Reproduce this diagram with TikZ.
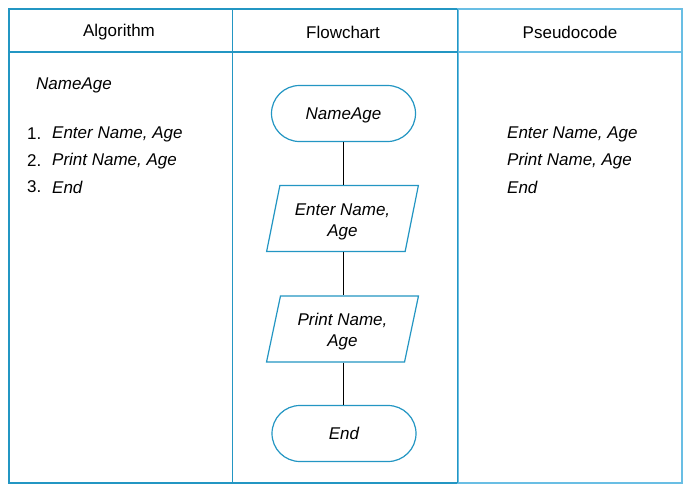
\documentclass[tikz,border=0pt]{standalone}
\usepackage{fontspec}
\setmainfont{Liberation Sans}
\usetikzlibrary{shapes.geometric}
\definecolor{tblue}{RGB}{35,150,195}
\definecolor{lblue}{RGB}{105,190,228}
\newcommand{\iotext}[2]{\raisebox{-3pt}[\height][\depth]{\begin{tabular}{@{}c@{}}#1\\#2\end{tabular}}}
\begin{document}
\begin{tikzpicture}[x=1pt,y=-1pt,
  every node/.style={font=\fontsize{17}{21}\selectfont, inner sep=0pt},
  hdr/.style={anchor=center},
  itm/.style={anchor=west, font=\fontsize{17}{21}\selectfont\itshape},
  term/.style={draw=tblue, line width=1.2pt, rectangle, rounded corners=28pt,
     minimum width=144pt, minimum height=56pt, text height=16.5pt, text depth=3.6pt,
     font=\fontsize{17}{21}\selectfont\itshape},
  io/.style={draw=tblue, line width=1.2pt, trapezium, trapezium left angle=76.5,
     trapezium right angle=103.5, trapezium stretches=true,
     minimum width=152pt, minimum height=66pt,
     font=\fontsize{17}{21}\selectfont\itshape},
  conn/.style={draw=black, line width=0.9pt}]
\useasboundingbox (0,0) rectangle (689,490);
\fill[white] (0,0) rectangle (689,490);
% table
\draw[tblue, line width=1.3pt] (458,9) -- (9,9) -- (9,483) -- (458,483);
\draw[tblue, line width=1.3pt] (9,52) -- (458,52);
\draw[tblue, line width=1.3pt] (232.5,9) -- (232.5,483);
\draw[lblue, line width=2pt] (457.5,8.5) rectangle (682,483);
\draw[lblue, line width=2pt] (457.5,52) -- (682,52);
\draw[tblue, line width=1.2pt] (457.5,9) -- (457.5,483);
% headers
\node[hdr] (h1) at (119,32.5) {Algorithm};
\node[hdr] (h2) at (343,32.5) {Flowchart};
\node[hdr] (h3) at (570,32.5) {Pseudocode};
% algorithm column
\node[itm] (aname) at (36,85) {NameAge};
\node[anchor=west] (n1) at (27,134) {1.};
\node[itm] (a1) at (52,134) {Enter Name, Age};
\node[anchor=west] (n2) at (27,161) {2.};
\node[itm] (a2) at (52,161) {Print Name, Age};
\node[anchor=west] (n3) at (27,187) {3.};
\node[itm] (a3) at (52,187) {End};
% pseudocode column
\node[itm] (p1) at (507,134) {Enter Name, Age};
\node[itm] (p2) at (507,161) {Print Name, Age};
\node[itm] (p3) at (507,187) {End};
% flowchart
\node[term] (start) at (343.5,113.5) {NameAge};
\node[io] (enter) at (342.5,218.5) {\iotext{Enter Name,}{Age}};
\node[io] (print) at (342.5,329) {\iotext{Print Name,}{Age}};
\node[term] (end) at (344,433.5) {End};
\draw[conn] (start.south) -- (start.south |- enter.north);
\draw[conn] (enter.south -| start.south) -- (print.north -| start.south);
\draw[conn] (print.south -| start.south) -- (end.north -| start.south);
\end{tikzpicture}
\end{document}
